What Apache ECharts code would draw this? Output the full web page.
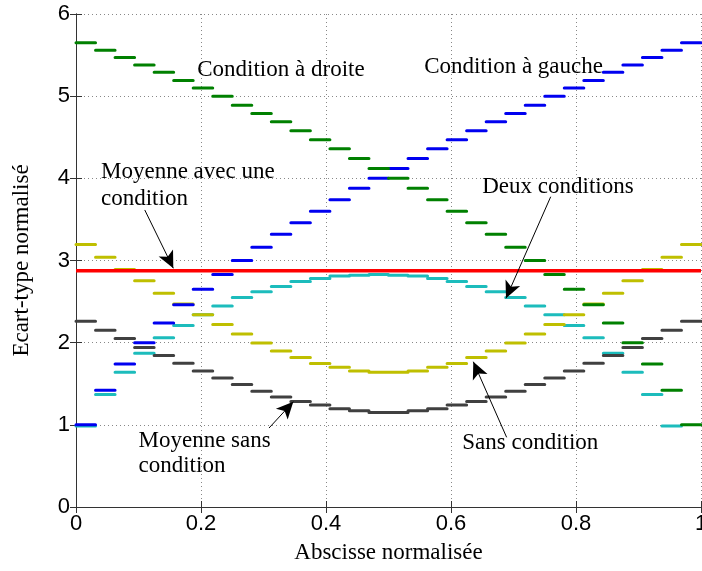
<!DOCTYPE html>
<html>
<head>
<meta charset="utf-8">
<script src="https://cdn.jsdelivr.net/npm/echarts@6/dist/echarts.min.js"></script>
<style>
    html, body { margin: 0; padding: 0; background: #fff; }
    #chart { width: 702px; height: 571px; }
</style>
</head>
<body>
<div id="chart"></div>
<script>
// 32 paliers sur l'abscisse normalisee [0, 1]
const nSeg = 32

const conditionDroite = [5.65, 5.56, 5.47, 5.38, 5.29, 5.19, 5.10, 5.00, 4.89, 4.79, 4.69, 4.58, 4.47, 4.36, 4.24, 4.12,
    4.00, 3.88, 3.74, 3.60, 3.46, 3.32, 3.16, 3.00, 2.83, 2.65, 2.46, 2.24, 2.00, 1.74, 1.42, 1.00]
const conditionGauche = [1.00, 1.42, 1.74, 2.00, 2.24, 2.46, 2.65, 2.83, 3.00, 3.16, 3.32, 3.46, 3.60, 3.74, 3.88, 4.00,
    4.12, 4.24, 4.36, 4.47, 4.58, 4.69, 4.79, 4.89, 5.00, 5.10, 5.19, 5.29, 5.38, 5.47, 5.56, 5.65]
// deux conditions : 31 paliers seulement
const deuxConditions = [0.985, 1.37, 1.64, 1.87, 2.06, 2.21, 2.34, 2.445, 2.55, 2.62, 2.685, 2.745, 2.78, 2.81, 2.82, 2.83,
    2.82, 2.81, 2.78, 2.745, 2.685, 2.62, 2.55, 2.445, 2.34, 2.21, 2.06, 1.87, 1.64, 1.37, 0.985]
const sansCondition = [3.195, 3.04, 2.89, 2.755, 2.60, 2.47, 2.34, 2.22, 2.105, 1.995, 1.90, 1.82, 1.745, 1.70, 1.655, 1.64,
    1.64, 1.655, 1.70, 1.745, 1.82, 1.90, 1.995, 2.105, 2.22, 2.34, 2.47, 2.60, 2.755, 2.89, 3.04, 3.195]
const moyenneSans = [2.26, 2.15, 2.05, 1.94, 1.845, 1.75, 1.655, 1.57, 1.49, 1.41, 1.34, 1.285, 1.24, 1.195, 1.17, 1.15,
    1.15, 1.17, 1.195, 1.24, 1.285, 1.34, 1.41, 1.49, 1.57, 1.655, 1.75, 1.845, 1.94, 2.05, 2.15, 2.26]
const moyenneAvecUne = 2.875

const xTicks = [0, 0.2, 0.4, 0.6, 0.8, 1]
const yTicks = [0, 1, 2, 3, 4, 5, 6]

// annotations : [texte, x, y] en coordonnees du graphe
const labels = [
    ['Condition à droite', 0.194, 5.32],
    ['Condition à gauche', 0.557, 5.355],
    ['Moyenne avec une', 0.04, 4.08],
    ['condition', 0.04, 3.75],
    ['Deux conditions', 0.65, 3.895],
    ['Moyenne sans', 0.1, 0.8],
    ['condition', 0.1, 0.5],
    ['Sans condition', 0.618, 0.78]
]
// fleches : [queue, pointe]
const arrows = [
    [[0.110, 3.615], [0.1557, 2.905]],
    [[0.7595, 3.776], [0.688, 2.54]],
    [[0.3088, 0.961], [0.3477, 1.2815]],
    [[0.689, 0.848], [0.6357, 1.768]]
]

const serif = 'Liberation Serif'
const sans = 'Liberation Sans'

const steps = vals => {
    const w = 1 / nSeg
    let out = []
    vals.forEach((v, k) => {
        out.push([k * w, v], [(k + 1) * w, v], [(k + 1) * w, '-'])
    })
    return out
}

const stepSeries = (name, vals, color, width) => ({
    name,
    type: 'line',
    data: steps(vals),
    showSymbol: false,
    connectNulls: false,
    silent: true,
    lineStyle: { color, width, cap: 'round' }
})

const chart = echarts.init(document.getElementById('chart'))

const tickStyle = { inside: true, length: 6, lineStyle: { color: '#333' } }
const split = { show: true, lineStyle: { color: '#888', type: [1, 3], width: 1 } }

const option = {
    animation: false,
    grid: { left: 76, right: 1, top: 14, bottom: 64, containLabel: false, outerBoundsMode: 'none' },
    xAxis: [{
        type: 'value', min: 0, max: 1, interval: 0.2,
        name: 'Abscisse normalisée', nameLocation: 'middle', nameGap: 34,
        nameTextStyle: { fontFamily: serif, fontSize: 23, color: '#000' },
        axisLine: { lineStyle: { color: '#333' } },
        axisTick: tickStyle,
        axisLabel: { fontFamily: sans, fontSize: 22, color: '#000', margin: 6 },
        splitLine: split
    }, {
        type: 'value', min: 0, max: 1, interval: 0.2, position: 'top',
        axisLine: { show: true, lineStyle: { color: '#333' } },
        axisTick: tickStyle, axisLabel: { show: false }, splitLine: { show: false }
    }],
    yAxis: [{
        type: 'value', min: 0, max: 6, interval: 1,
        name: 'Ecart-type normalisé', nameLocation: 'middle', nameGap: 43, nameRotate: 90,
        nameTextStyle: { fontFamily: serif, fontSize: 23, color: '#000' },
        axisLine: { show: true, lineStyle: { color: '#333' } },
        axisTick: tickStyle,
        axisLabel: { fontFamily: sans, fontSize: 22, color: '#000', margin: 6 },
        splitLine: split
    }, {
        type: 'value', min: 0, max: 6, interval: 1, position: 'right',
        axisLine: { show: true, lineStyle: { color: '#333' } },
        axisTick: tickStyle, axisLabel: { show: false }, splitLine: { show: false }
    }],
    series: [
        stepSeries('Deux conditions', deuxConditions, '#1cbcbc', 3),
        stepSeries('Moyenne sans condition', moyenneSans, '#404040', 3),
        stepSeries('Sans condition', sansCondition, '#bfbf00', 3),
        stepSeries('Condition à gauche', conditionGauche, '#0000f0', 3),
        stepSeries('Condition à droite', conditionDroite, '#008000', 3),
        {
            name: 'Moyenne avec une condition',
            type: 'line',
            data: [[0, moyenneAvecUne], [1, moyenneAvecUne]],
            showSymbol: false,
            silent: true,
            lineStyle: { color: '#ff0000', width: 3.5 },
            markLine: {
                silent: true,
                animation: false,
                label: { show: false },
                lineStyle: { color: '#000', width: 1, type: 'solid' },
                data: arrows.map(([a, b]) => [
                    { coord: a, symbol: 'none' },
                    { coord: b, symbol: 'arrow', symbolSize: [12, 17] }
                ])
            }
        }
    ]
}
chart.setOption(option)

chart.setOption({
    graphic: labels.map(([text, x, y]) => {
        const [px, py] = chart.convertToPixel({ xAxisIndex: 0, yAxisIndex: 0 }, [x, y])
        return {
            type: 'text', x: px, y: py, silent: true, z: 100,
            style: { text, fill: '#000', font: `23px "${serif}"`, textAlign: 'left', textVerticalAlign: 'middle' }
        }
    })
})
</script>
</body>
</html>
